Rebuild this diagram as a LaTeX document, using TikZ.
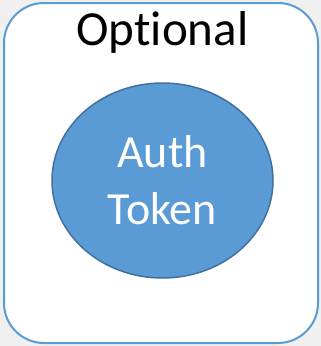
\documentclass[tikz,border=0pt]{standalone}
\usepackage{fontspec}
\setmainfont[Ligatures=NoCommon]{Carlito}
\usetikzlibrary{shapes.geometric,positioning}
\definecolor{bgGray}{RGB}{240,240,240}
\definecolor{boxBlue}{RGB}{91,155,213}
\definecolor{rimBlue}{RGB}{65,113,156}
\begin{document}
\begin{tikzpicture}[x=1pt,y=-1pt,
	optbox/.style={draw=boxBlue,line width=2pt,fill=white,rounded corners=40pt},
	token/.style={ellipse,draw=rimBlue,line width=1.5pt,fill=boxBlue,text=white,
		minimum width=221pt,minimum height=195pt,inner sep=0pt,align=center,
		font=\fontsize{46}{57}\selectfont}]
		\fill[bgGray] (0,0) rectangle (321,346);
		\draw[optbox] (4,3) rectangle (318,343);
		\node[anchor=base,font=\fontsize{49}{58}\selectfont](optional) at (162.5,45) {Optional};
		\node[token](auth) at (162.5,180.5) {Auth\\Token};
		\end{tikzpicture}
\end{document}
